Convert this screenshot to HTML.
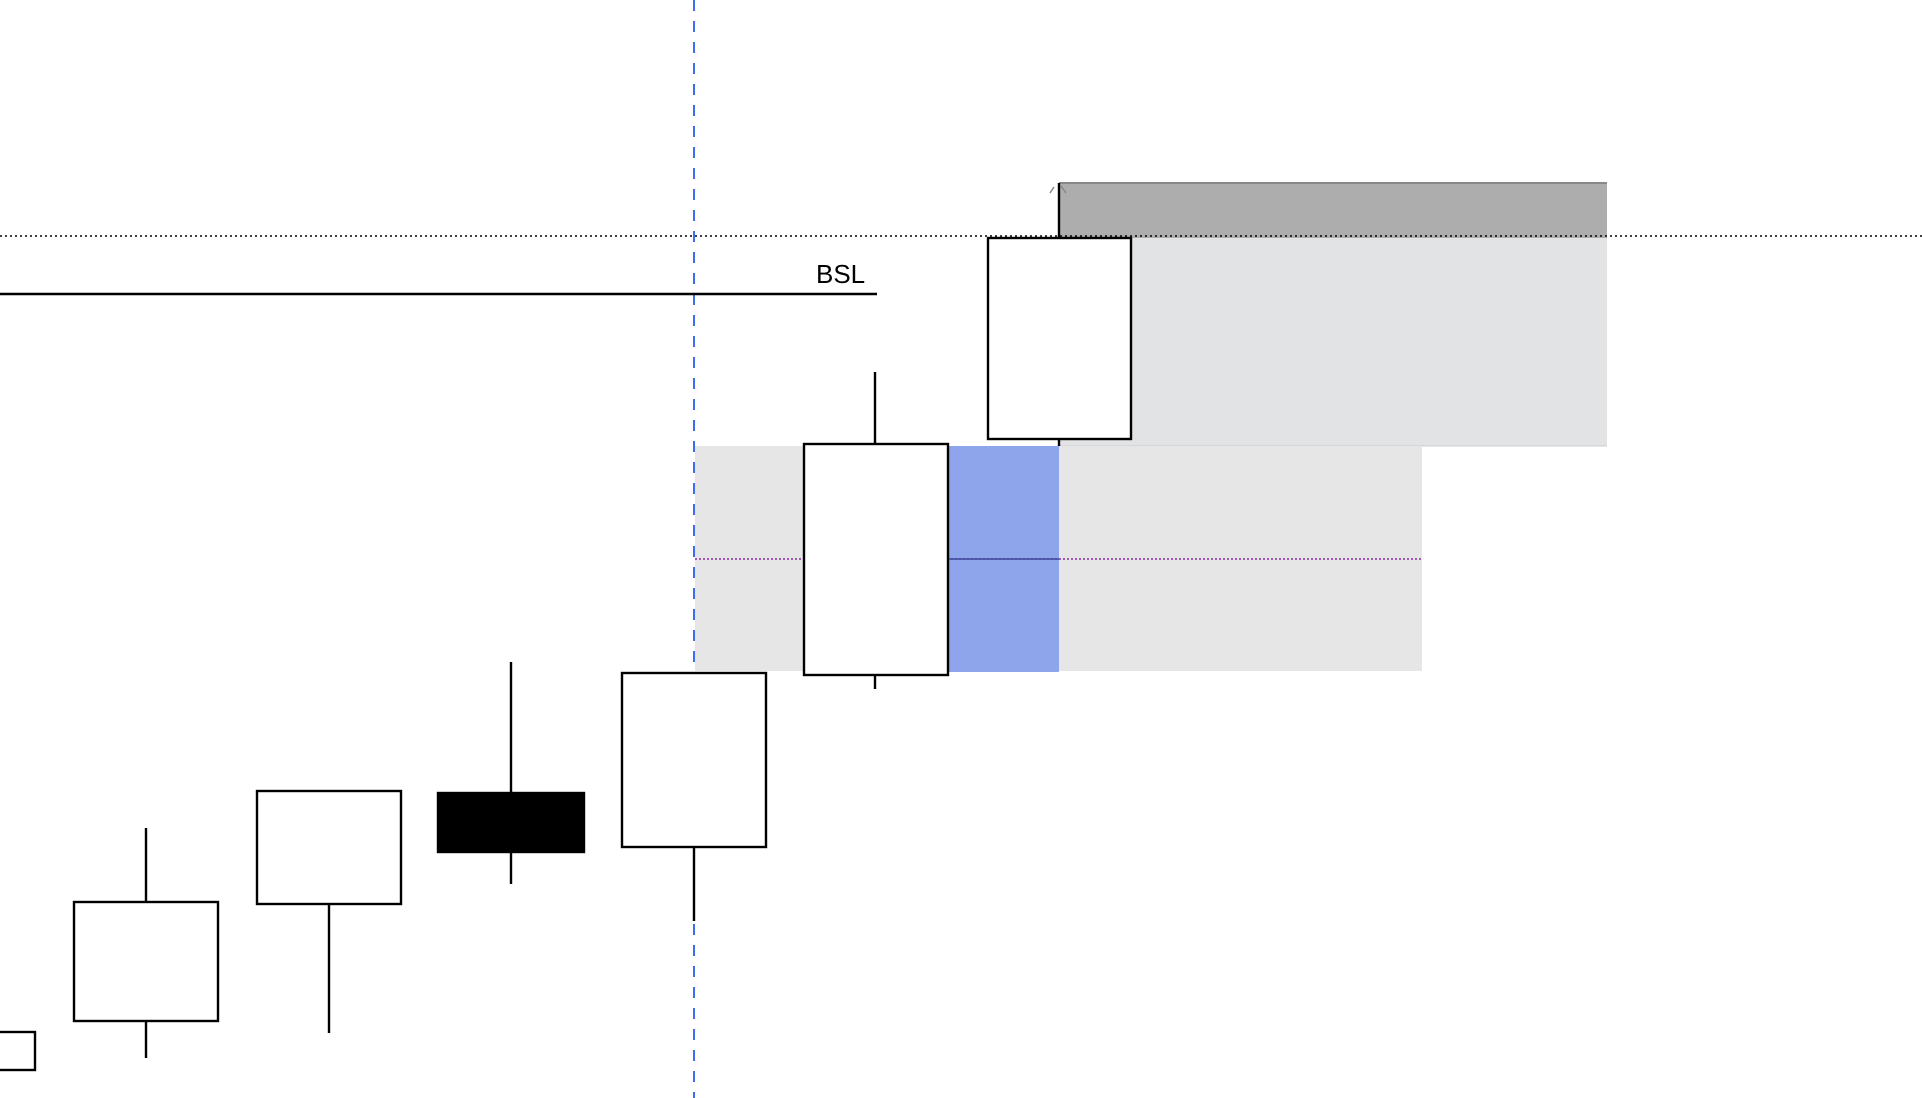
<!DOCTYPE html>
<html><head><style>html,body{margin:0;padding:0;background:#fff;}svg{display:block}</style></head>
<body>
<svg width="1922" height="1098" xmlns="http://www.w3.org/2000/svg">
<rect x="1059" y="183" width="548" height="55" fill="#adadad"/>
<line x1="1059" y1="183" x2="1607" y2="183" stroke="#888" stroke-width="2"/>
<rect x="1059" y="238" width="548" height="208" fill="#e2e3e5"/>
<line x1="1059" y1="446" x2="1607" y2="446" stroke="#ccc" stroke-width="1"/>
<rect x="695" y="446" width="727" height="225" fill="#e6e6e6"/>
<rect x="948" y="446" width="111" height="226" fill="#8ea5ec"/>
<line x1="695" y1="559" x2="1422" y2="559" stroke="#8a2aa8" stroke-width="1.5" stroke-dasharray="2,2"/>
<line x1="948" y1="559" x2="1059" y2="559" stroke="#3a4a9a" stroke-width="1.5"/>
<line x1="0" y1="236" x2="1922" y2="236" stroke="#000" stroke-width="1.5" stroke-dasharray="2,3"/>
<line x1="694" y1="0" x2="694" y2="1098" stroke="#3d6cf0" stroke-width="2" stroke-dasharray="11,10"/>
<line x1="0" y1="294" x2="877" y2="294" stroke="#000" stroke-width="2.4"/>
<text x="816" y="283" font-family="Liberation Sans, sans-serif" font-size="26" fill="#000">BSL</text>
<g stroke="#000" stroke-width="2.4" fill="#fff">
<line x1="1059" y1="183" x2="1059" y2="446"/>
<path d="M1050 193 L1054 187 M1061 186 L1066 193" stroke="#888" stroke-width="1.5" fill="none"/>
<rect x="988" y="238" width="143" height="201"/>
<line x1="875" y1="372" x2="875" y2="689"/>
<rect x="804" y="444" width="144" height="231"/>
<line x1="694" y1="840" x2="694" y2="921"/>
<rect x="622" y="673" width="144" height="174"/>
<line x1="511" y1="662" x2="511" y2="884"/>
<rect x="438" y="793" width="146" height="59" fill="#000"/>
<line x1="329" y1="904" x2="329" y2="1033"/>
<rect x="257" y="791" width="144" height="113"/>
<line x1="146" y1="828" x2="146" y2="1058"/>
<rect x="74" y="902" width="144" height="119"/>
<rect x="-2" y="1032" width="37" height="38"/>
</g>
</svg>
</body></html>
